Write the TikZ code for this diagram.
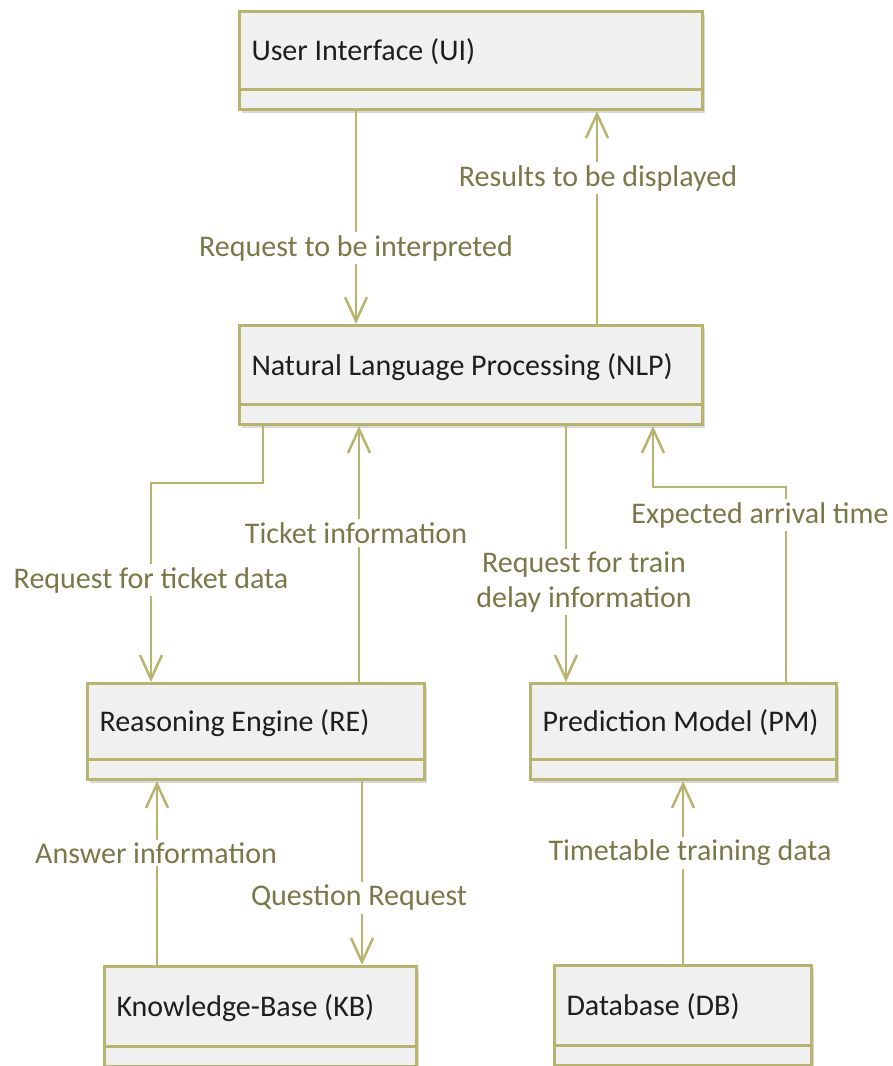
\documentclass[tikz,border=0pt]{standalone}
\usepackage{fontspec}
\setmainfont{Carlito}
\usetikzlibrary{arrows.meta,shadows}
\definecolor{bordc}{RGB}{184,180,112}
\definecolor{labc}{RGB}{122,120,72}
\definecolor{boxfill}{RGB}{240,240,240}
\definecolor{boxtext}{RGB}{30,30,30}
\tikzset{
  umlbox/.style 2 args={draw=bordc, line width=3pt, fill=boxfill,
    anchor=north west, inner xsep=12pt, inner ysep=0pt,
    text width=#1, minimum height=#2, align=flush left,
    text height=20pt, text depth=20pt, text=boxtext,
    font=\fontsize{30}{35}\selectfont,
    drop shadow={shadow xshift=2.5pt, shadow yshift=-3pt, opacity=0.25, fill=black!60},
    path picture={\draw[bordc, line width=3pt]
      ([yshift=20pt]path picture bounding box.south west) --
      ([yshift=20pt]path picture bounding box.south east);}},
  conn/.style={draw=bordc, line width=2.5pt},
  arr/.style={conn, -{Straight Barb[length=24pt,width=22pt]}},
  lab/.style={fill=white, text=labc, inner sep=3pt, align=center,
    font=\fontsize{30}{35}\selectfont}
}
\begin{document}
\begin{tikzpicture}[x=1pt,y=-1pt]
\useasboundingbox (0,0) rectangle (892,1066);
% boxes
\node[umlbox={439pt}{98pt}] (ui) at (238,10) {User Interface (UI)};
\node[umlbox={439pt}{99pt}] (nlp) at (238,324) {Natural Language Processing (NLP)};
\node[umlbox={313pt}{96pt}] (re) at (86,682) {Reasoning Engine (RE)};
\node[umlbox={282pt}{96pt}] (pm) at (529,682) {Prediction Model (PM)};
\node[umlbox={288pt}{100pt}] (kb) at (103,965) {Knowledge-Base (KB)};
\node[umlbox={233pt}{100pt}] (db) at (553,964) {Database (DB)};
% connectors
\draw[arr] (ui.south -| 356,0) -- (nlp.north -| 356,0);
\draw[arr] (nlp.north -| 597,0) -- (ui.south -| 597,0);
\draw[arr] (nlp.south -| 263,0) |- (151,483) -- (re.north -| 151,0);
\draw[arr] (re.north -| 359,0) -- (nlp.south -| 359,0);
\draw[arr] (nlp.south -| 566,0) -- (pm.north -| 566,0);
\draw[arr] (pm.north -| 786,0) |- (653,487) -- (nlp.south -| 653,0);
\draw[arr] (kb.north -| 157,0) -- (re.south -| 157,0);
\draw[arr] (re.south -| 362,0) -- (kb.north -| 362,0);
\draw[arr] (db.north -| 683,0) -- (pm.south -| 683,0);
% labels
\node[lab] (l1) at (356,248) {Request to be interpreted};
\node[lab] (l2) at (598,178) {Results to be displayed};
\node[lab] (l3) at (151,580) {Request for ticket data};
\node[lab] (l4) at (356,533) {Ticket information};
\node[lab] (l5) at (584,582) {Request for train\\delay information};
\node[lab] (l6) at (760,515) {Expected arrival time};
\node[lab] (l7) at (156,853) {Answer information};
\node[lab] (l8) at (359,898) {Question Request};
\node[lab] (l9) at (690,853) {Timetable training data};
\end{tikzpicture}
\end{document}
